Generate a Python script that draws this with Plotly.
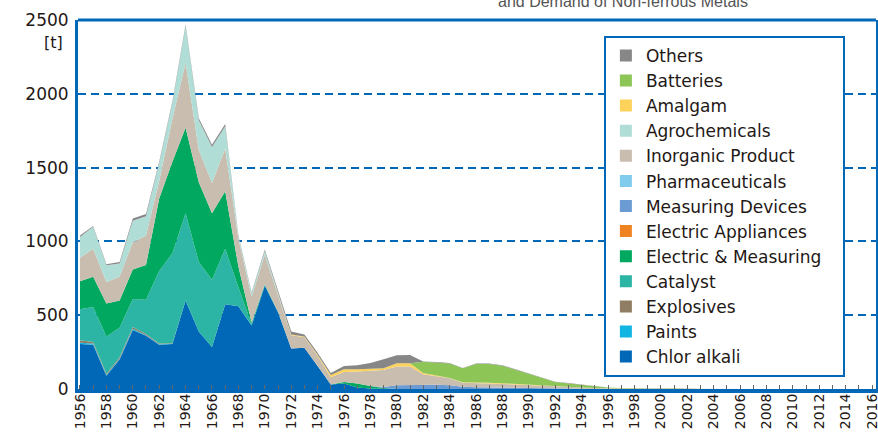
import plotly.graph_objects as go

years = list(range(1956, 2017))

chlor_alkali = [305, 300, 90, 200, 400, 360, 300, 305, 600, 390, 285, 575, 560, 430, 700, 520,
                275, 280, 155, 30, 38, 10, 3] + [0] * 38
paints = [8, 8, 5, 5, 8, 5, 3, 2] + [0] * 53
explosives = [17, 10, 8, 10, 12, 8, 5, 3] + [0] * 53
catalyst = [210, 237, 252, 200, 190, 232, 492, 610, 590, 470, 455, 375, 130, 10, 5, 2] + [0] * 45
electric_measuring = [190, 205, 225, 185, 200, 235, 490, 620, 580, 540, 450, 390, 140, 10, 5, 3,
                      0, 0, 0, 0, 10, 28, 18, 6] + [0] * 37
electric_appliances = [0] * 61
measuring_devices = [0] * 23 + [7, 25, 27, 30, 28, 25, 15, 12, 10, 10, 8, 6, 5, 4, 3, 2, 2, 1] + [0] * 20
pharmaceuticals = [0] * 61
inorganic_product = [160, 190, 145, 160, 185, 200, 120, 290, 440, 220, 205, 290, 190, 175, 200, 115,
                     90, 70, 70, 50, 67, 80, 104, 116, 127, 125, 70, 60, 47, 28, 31, 28, 24, 22, 19,
                     15, 11, 9, 7, 4, 3, 3, 2, 1] + [0] * 17
agrochemicals = [140, 150, 113, 90, 145, 130, 120, 110, 250, 200, 245, 150, 20, 25, 25, 10] + [0] * 45
amalgam = [0] * 16 + [5, 5, 7, 15, 18, 15, 13, 12, 23, 23, 8, 4, 3, 3, 4, 5, 5, 4, 3, 2, 1, 1, 1, 1, 1] + [0] * 20
batteries = [0] * 26 + [77, 88, 98, 94, 122, 127, 119, 96, 74, 51, 31, 25, 18, 10, 5, 3, 2, 2, 2, 1] + [0] * 15
others = [10, 5, 7, 10, 15, 15, 10, 10, 10, 15, 15, 15, 5, 5, 10, 10, 20, 15, 13, 13, 22, 28, 38, 60, 53, 55,
          2, 3, 3, 3, 3, 3, 3, 3, 3, 3, 2, 2, 2, 2, 1, 1, 1, 1, 1] + [0] * 16

series = [
    ("Chlor alkali", chlor_alkali, "#0068b7"),
    ("Paints", paints, "#13b5e2"),
    ("Explosives", explosives, "#8f7e63"),
    ("Catalyst", catalyst, "#2cb5a5"),
    ("Electric & Measuring", electric_measuring, "#00a95f"),
    ("Electric Appliances", electric_appliances, "#f08321"),
    ("Measuring Devices", measuring_devices, "#6b9bd2"),
    ("Pharmaceuticals", pharmaceuticals, "#81cbed"),
    ("Inorganic Product", inorganic_product, "#c9bdb0"),
    ("Agrochemicals", agrochemicals, "#b1ddd7"),
    ("Amalgam", amalgam, "#fdd25a"),
    ("Batteries", batteries, "#8ec557"),
    ("Others", others, "#878787"),
]

tick_years = list(range(1956, 2017, 2))
y_ticks = [0, 500, 1000, 1500, 2000, 2500]

FONT = "DejaVu Sans"
TEXT = "#231815"
BLUE = "#0068b7"
PAD = "\u00a0" * 3  # keeps the legend box as wide as in the reference

fig = go.Figure()
for name, vals, col in series:
    fig.add_trace(go.Scatter(
        x=years, y=vals, name=name, stackgroup="one", mode="lines",
        line=dict(width=0, color=col), fillcolor=col, showlegend=False,
        hoverinfo="skip",
    ))
for name, vals, col in series:
    fig.add_trace(go.Scatter(
        x=[None], y=[None], name=name + (PAD if name == "Electric & Measuring" else ""),
        mode="markers",
        marker=dict(symbol="square", size=16, color=col),
        showlegend=True,
    ))

fig.update_layout(
    width=878, height=432,
    margin=dict(l=78, r=2, t=20, b=43),
    paper_bgcolor="white", plot_bgcolor="white",
    font=dict(family=FONT, color=TEXT),
    showlegend=True,
    legend=dict(
        x=0.659, y=0.957, xanchor="left", yanchor="top",
        traceorder="reversed",
        bordercolor=BLUE, borderwidth=2, bgcolor="white",
        font=dict(family=FONT, size=17, color=TEXT),
        itemsizing="constant",
    ),
    xaxis=dict(
        range=[1955.85, 2016.3],
        tickmode="array", tickvals=tick_years, ticktext=[str(t) for t in tick_years],
        tickangle=-90, tickfont=dict(family=FONT, size=14, color=TEXT),
        ticklabeloverflow="allow", ticklabelstandoff=-5,
        ticks="inside", ticklen=4, tickcolor="#666666", tickwidth=1,
        minor=dict(dtick=1, tick0=1956, ticks="inside", ticklen=4, tickcolor="#666666"),
        showgrid=False, zeroline=False, automargin=False,
        showline=True, linecolor=BLUE, linewidth=4,
    ),
    yaxis=dict(
        range=[0, 2500],
        tickmode="array", tickvals=y_ticks, ticktext=[str(v) for v in y_ticks],
        tickfont=dict(family=FONT, size=17, color=TEXT),
        ticklabelstandoff=3, automargin=False,
        showgrid=True, gridcolor=BLUE, gridwidth=2, griddash="8px,5px",
        zeroline=False,
        showline=True, linecolor=BLUE, linewidth=3, mirror=True,
    ),
)

fig.add_shape(type="line", xref="paper", yref="paper", x0=0, x1=1, y0=1, y1=1,
              line=dict(color=BLUE, width=3))

fig.add_annotation(text="[t]", xref="paper", yref="paper", x=-0.031, y=0.94,
                   xanchor="center", yanchor="middle", showarrow=False,
                   font=dict(family=FONT, size=16, color=TEXT))
fig.add_annotation(text="and Demand of Non-ferrous Metals", xref="paper", yref="paper",
                   x=0.524, y=1.05, xanchor="left", yanchor="middle", showarrow=False,
                   font=dict(family="Liberation Sans", size=16, color="#555555"))

fig.write_html("out.html", config={"displayModeBar": False},
               post_script="document.body.style.margin='0';document.body.style.overflow='hidden';")
